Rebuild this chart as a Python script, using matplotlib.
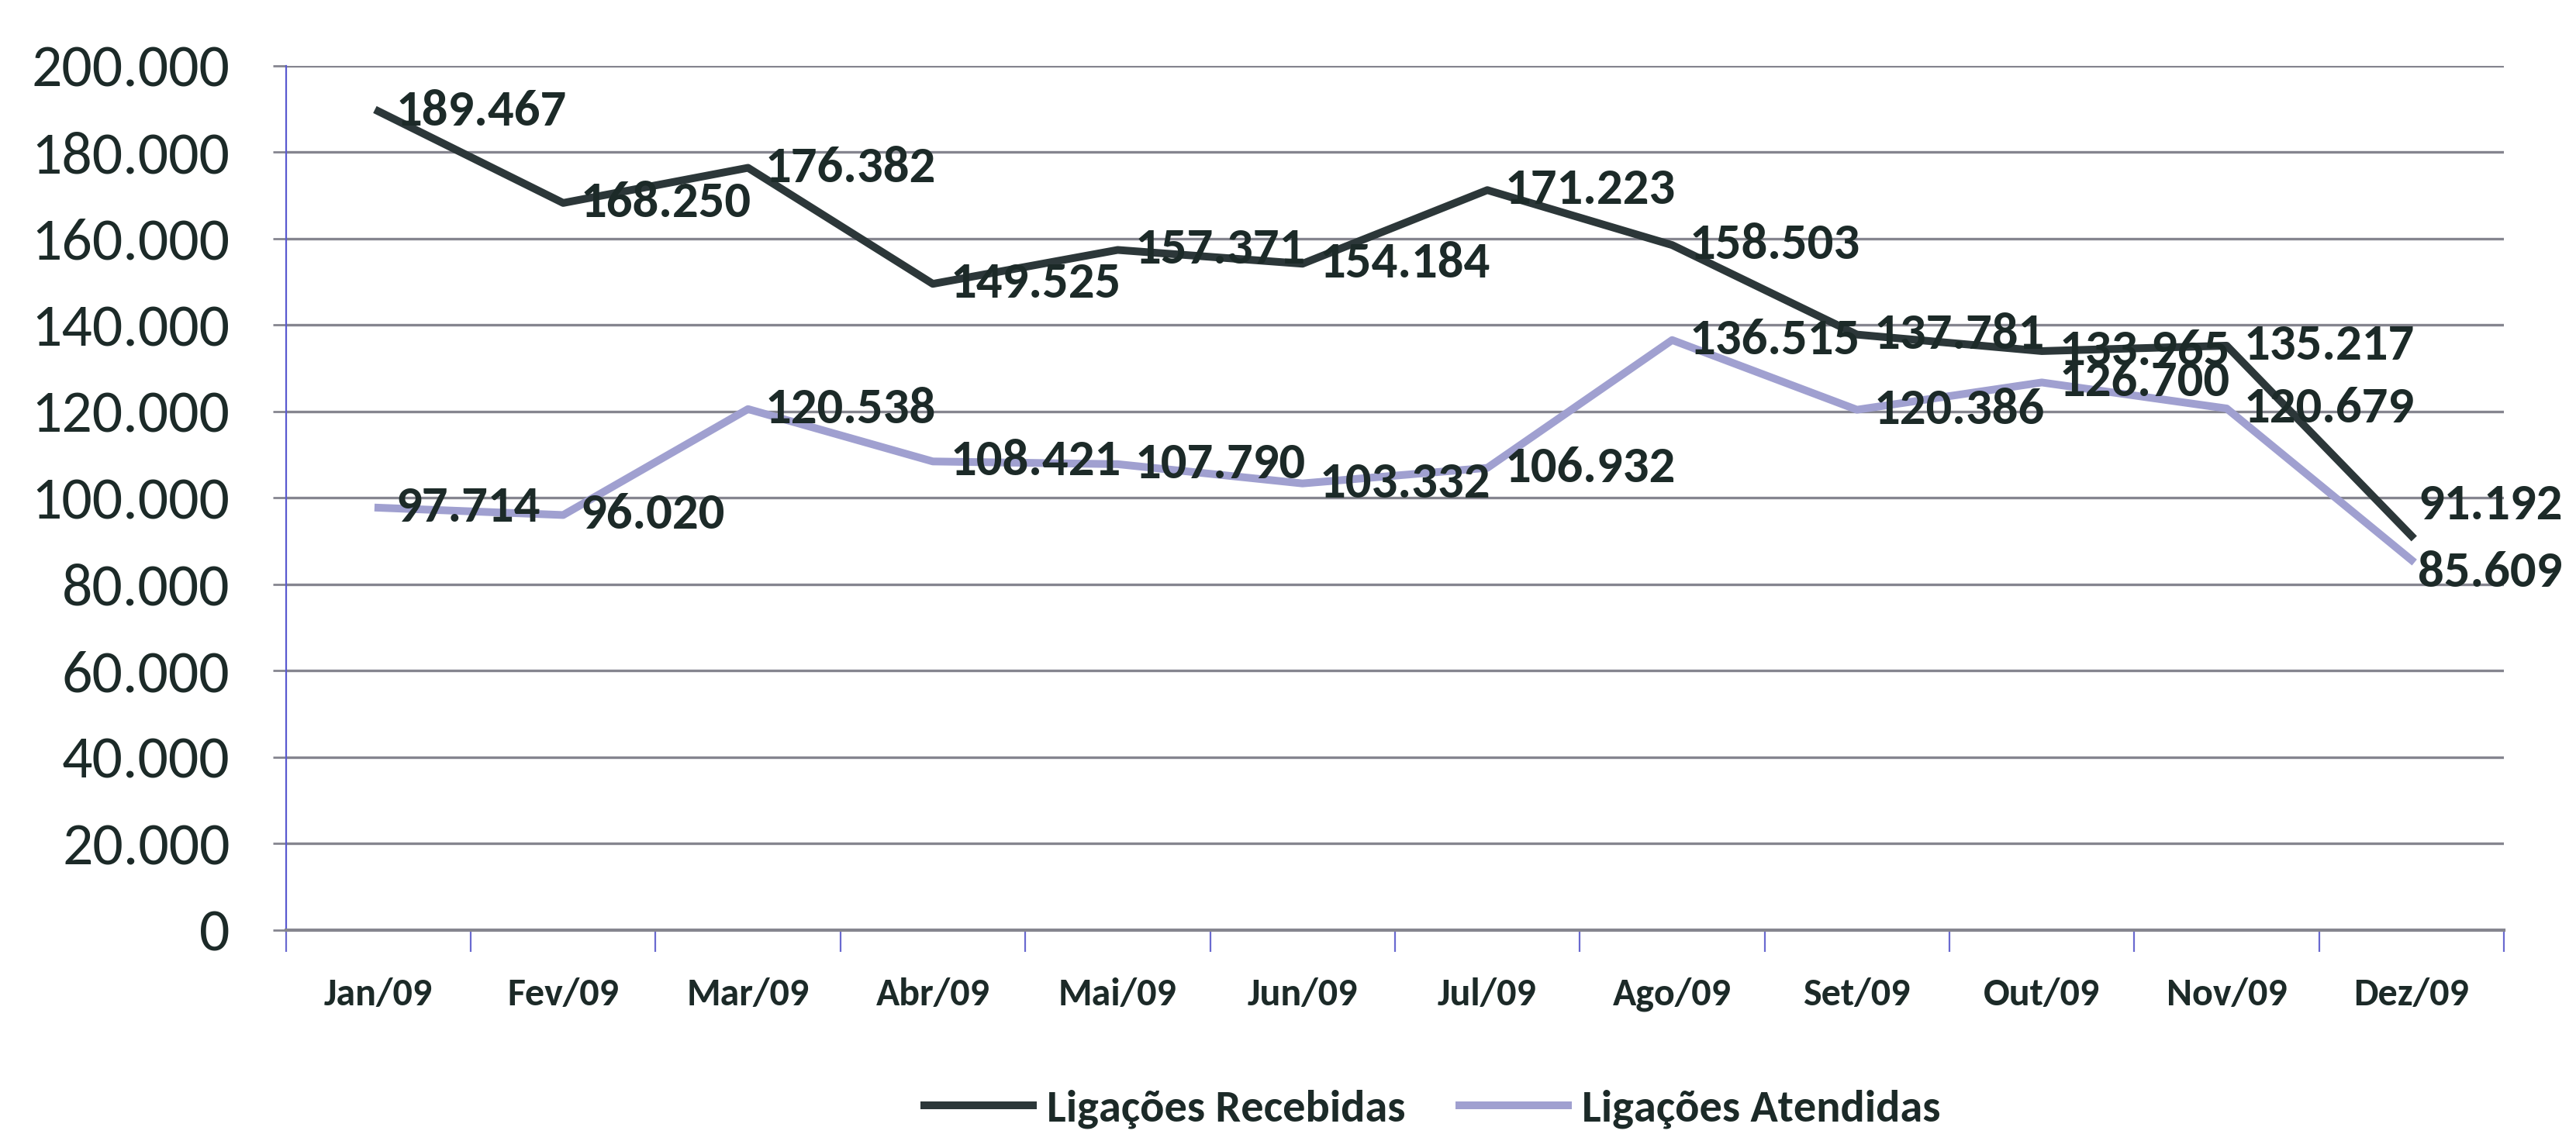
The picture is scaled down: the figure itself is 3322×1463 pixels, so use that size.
import matplotlib.pyplot as plt
import numpy as np
from matplotlib import font_manager
from matplotlib.ticker import FuncFormatter, FixedLocator

# Data
meses = ['Jan/09', 'Fev/09', 'Mar/09', 'Abr/09', 'Mai/09', 'Jun/09',
         'Jul/09', 'Ago/09', 'Set/09', 'Out/09', 'Nov/09', 'Dez/09']
recebidas = [189467, 168250, 176382, 149525, 157371, 154184,
             171223, 158503, 137781, 133965, 135217, 91192]
atendidas = [97714, 96020, 120538, 108421, 107790, 103332,
             106932, 136515, 120386, 126700, 120679, 85609]
series_nomes = ['Ligações Recebidas', 'Ligações Atendidas']

cor_receb = '#2c3739'
cor_atend = '#a0a0d0'
cor_texto = '#1c2a28'

# fonte parecida com Calibri, se houver
disponiveis = {f.name for f in font_manager.fontManager.ttflist}
fonte = 'DejaVu Sans'
for nome in ['Carlito', 'Liberation Sans Narrow', 'Archivo Narrow', 'Asap Condensed', 'Noto Sans']:
    if nome in disponiveis:
        fonte = nome
        break
plt.rcParams['font.family'] = [fonte, 'DejaVu Sans']

fig = plt.figure(figsize=(16.61, 7.315), dpi=200)
ax = fig.add_axes([0.111, 0.18, 0.861, 0.762])

x = np.arange(len(meses))
ax.plot(x, recebidas, color=cor_receb, lw=3.6, label=series_nomes[0], zorder=3)
ax.plot(x, atendidas, color=cor_atend, lw=3.6, label=series_nomes[1], zorder=2)

# rotulos de dados, a direita de cada ponto
def fmt_milhar(v):
    return f"{v:,.0f}".replace(',', '.')

ultimo = len(meses) - 1
for serie, dy_fim in ((recebidas, 14), (atendidas, -6)):
    for xi, v in zip(x, serie):
        dx, dy = (8, 0) if xi != ultimo else (3, dy_fim)
        ax.annotate(fmt_milhar(v), (xi, v), xytext=(dx, dy), textcoords='offset points',
                    ha='left', va='center', fontsize=24, fontweight='bold',
                    color=cor_texto, zorder=4)

ax.set_xlim(-0.5, len(meses) - 0.5)
ax.set_ylim(0, 200000)
ax.set_yticks(np.arange(0, 200001, 20000))
ax.yaxis.set_major_formatter(FuncFormatter(lambda v, p: fmt_milhar(v)))
ax.grid(axis='y', color='#85858f', lw=1.2)
ax.set_axisbelow(True)

# ticks entre categorias, rotulos no centro
ax.xaxis.set_major_locator(FixedLocator(np.arange(-0.5, len(meses), 1.0)))
ax.xaxis.set_minor_locator(FixedLocator(x))
ax.set_xticklabels([], minor=False)
ax.set_xticklabels(meses, minor=True)
ax.tick_params(axis='x', which='major', length=10, width=0.8, color='#6a6ad0', direction='out')
ax.tick_params(axis='x', which='minor', length=0, pad=22, labelsize=18, labelcolor=cor_texto)
for lbl in ax.get_xticklabels(minor=True):
    lbl.set_fontweight('bold')
ax.tick_params(axis='y', length=6, width=1.0, color='#85858f', pad=20, labelsize=28,
               labelcolor=cor_texto)

for s in ('top', 'right'):
    ax.spines[s].set_visible(False)
ax.spines['left'].set_color('#5a5ad0')
ax.spines['left'].set_linewidth(0.8)
ax.spines['bottom'].set_color('#85858f')
ax.spines['bottom'].set_linewidth(1.5)

leg = fig.legend(loc='center', bbox_to_anchor=(0.556, 0.022), ncol=2, frameon=False,
                 fontsize=21, handlelength=2.4, columnspacing=1.2, handletextpad=0.3)
for t in leg.get_texts():
    t.set_color(cor_texto)
    t.set_fontweight('bold')

fig.savefig('out.png', dpi=200)
